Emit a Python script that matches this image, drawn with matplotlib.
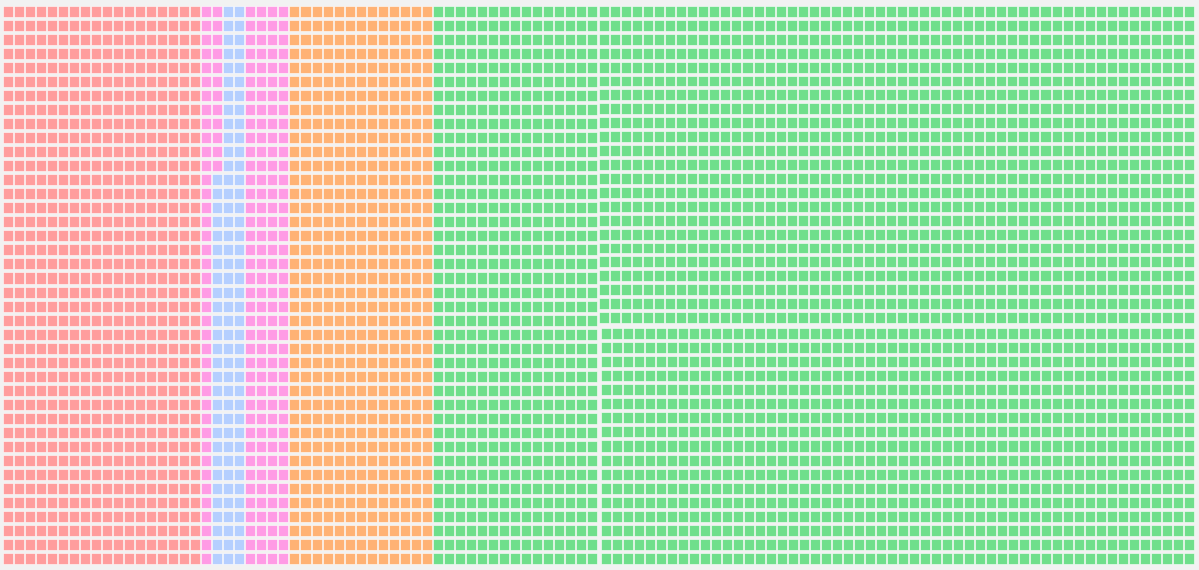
#!/usr/bin/env python3
"""
Waffle treemap: three blocks of unit cells, filled column by column.
"""

import matplotlib
matplotlib.use('Agg')
import matplotlib.pyplot as plt
from matplotlib.patches import Rectangle
from matplotlib.collections import PatchCollection

# Block 1 (left) holds several categories, blocks 2 and 3 are one category each
block1_labels = ['A', 'B', 'C', 'D', 'E', 'F']
block1_counts = [720, 52, 108, 160, 520, 600]
block1_colors = ['#ff9d9d', '#ff9be5', '#b5cfff', '#ff9be5', '#ffb274', '#6fdf8b']

block2_labels = ['G']
block2_counts = [1242]
block2_colors = ['#6fdf8b']

block3_labels = ['H']
block3_counts = [918]
block3_colors = ['#6fdf8b']

# layout of each block in pixels: (left, top, right, bottom, rows)
block_boxes = [
    (3, 5, 598, 566, 40),
    (599, 5, 1195, 325, 23),
    (601, 327, 1195, 566, 17),
]

BG = '#f2f2f2'
GAP_X = 1
GAP_Y = 3


def draw_block(ax, box, counts, colors):
    """Fill a box with unit cells, column-major, one colour per category"""
    left, top, right, bottom, rows = box
    total = sum(counts)
    cols = -(-total // rows)
    pitch_x = (right - left) / cols
    pitch_y = (bottom - top) / rows

    patches = []
    facecolors = []
    idx = 0
    for count, color in zip(counts, colors):
        for _ in range(count):
            c = idx // rows
            r = idx % rows
            # snap to whole pixels so the gaps stay crisp
            x0 = round(left + c * pitch_x)
            x1 = round(left + (c + 1) * pitch_x) - GAP_X
            y0 = round(top + r * pitch_y) + 1
            y1 = round(top + (r + 1) * pitch_y) - GAP_Y + 1
            patches.append(Rectangle((x0, y0), x1 - x0, y1 - y0))
            facecolors.append(color)
            idx += 1

    pc = PatchCollection(patches, facecolors=facecolors,
                         edgecolors=(1, 1, 1, 0.55), linewidths=0.75)
    ax.add_collection(pc)


def main():
    fig = plt.figure(figsize=(11.99, 5.70), dpi=100)
    fig.patch.set_facecolor(BG)
    ax = fig.add_axes([0, 0, 1, 1])
    ax.set_facecolor(BG)
    ax.set_xlim(0, 1199)
    ax.set_ylim(570, 0)
    ax.axis('off')

    draw_block(ax, block_boxes[0], block1_counts, block1_colors)
    draw_block(ax, block_boxes[1], block2_counts, block2_colors)
    draw_block(ax, block_boxes[2], block3_counts, block3_colors)

    fig.savefig('out.png', dpi=100, facecolor=BG)


if __name__ == "__main__":
    main()
